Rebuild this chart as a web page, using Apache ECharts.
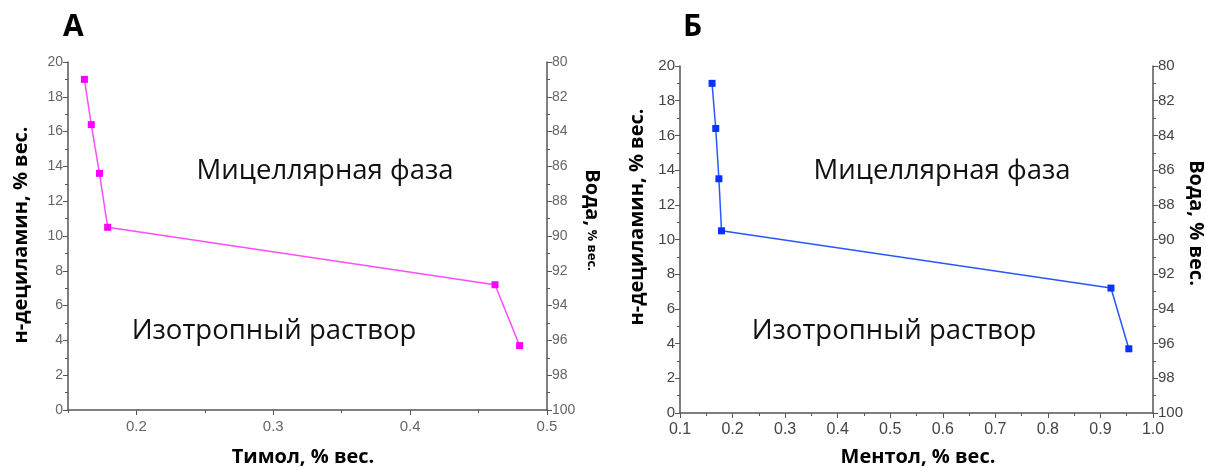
<!doctype html>
<html>
	<head>
		<meta charset="utf-8">
		<title>Фазовые диаграммы</title>
		<style>
			html, body { margin: 0; padding: 0; background: #fff; }
			#main { width: 1206px; height: 468px; }
		</style>
	</head>
	<body>
		<div id="main"></div>

		<script src="https://cdn.jsdelivr.net/npm/echarts@6.0.0/dist/echarts.min.js" type="text/javascript"></script>
		<script type="text/javascript">
			// А: тимол
			var timolX = [0.162, 0.167, 0.173, 0.179, 0.462, 0.480]
			var timolY = [19.0, 16.4, 13.6, 10.5, 7.2, 3.7]
			// Б: ментол
			var mentolX = [0.161, 0.168, 0.174, 0.179, 0.920, 0.954]
			var mentolY = [19.0, 16.4, 13.5, 10.5, 7.2, 3.7]

			// подписи осей
			var timolTicks = [0.2, 0.3, 0.4, 0.5]
			var timolMinor = [0.15, 0.25, 0.35, 0.45]

			var axisColor = '#555'

			function pairs(xs, ys) {
				var out = []
				for (var i = 0; i < xs.length; i++) {
					out.push([xs[i], ys[i]])
				}
				return out
			}

			function yAxisLeft(grid, labelStyle) {
				return {
					type: 'value', gridIndex: grid, position: 'left',
					min: 0, max: 20, interval: 2,
					axisLine: { show: true, lineStyle: { color: axisColor, width: 1.5 } },
					axisTick: { show: true, length: 5, lineStyle: { color: axisColor } },
					minorTick: { show: true, splitNumber: 2, length: 3, lineStyle: { color: axisColor } },
					axisLabel: labelStyle,
					splitLine: { show: false }
				}
			}

			function yAxisRight(grid, labelStyle) {
				return {
					type: 'value', gridIndex: grid, position: 'right',
					min: 80, max: 100, interval: 2, inverse: true,
					axisLine: { show: true, lineStyle: { color: axisColor, width: 1.5 } },
					axisTick: { show: true, length: 5, lineStyle: { color: axisColor } },
					minorTick: { show: true, splitNumber: 2, length: 3, lineStyle: { color: axisColor } },
					axisLabel: labelStyle,
					splitLine: { show: false }
				}
			}

			var labelA = { color: '#666', fontSize: 14, fontFamily: 'Liberation Sans', margin: 5 }
			var labelB = { color: '#444', fontSize: 15, fontFamily: 'Liberation Sans', margin: 5 }

			var myChart = echarts.init(document.getElementById('main'));

			var option = {
				animation: false,
				grid: [
					{ left: 68, top: 62, width: 479, height: 348 },
					{ left: 680, top: 66, width: 473, height: 347 }
				],
				xAxis: [
					{
						type: 'value', gridIndex: 0, position: 'bottom',
						min: 0.15, max: 0.5,
						axisLine: { show: true, onZero: false, lineStyle: { color: axisColor, width: 1.5 } },
						axisTick: { show: true, length: 5, customValues: timolTicks, lineStyle: { color: axisColor } },
						axisLabel: { color: '#666', fontSize: 15, fontFamily: 'Liberation Sans', margin: 9, customValues: timolTicks,
							formatter: function (v) { return v.toFixed(1) } },
						splitLine: { show: false }
					},
					{
						type: 'value', gridIndex: 0, position: 'bottom', offset: 0,
						min: 0.15, max: 0.5,
						axisLine: { show: false },
						axisTick: { show: true, length: 3, customValues: timolMinor, lineStyle: { color: axisColor } },
						axisLabel: { show: false },
						splitLine: { show: false }
					},
					{
						type: 'value', gridIndex: 1, position: 'bottom',
						min: 0.1, max: 1.0, interval: 0.1,
						axisLine: { show: true, onZero: false, lineStyle: { color: axisColor, width: 1.5 } },
						axisTick: { show: true, length: 5, lineStyle: { color: axisColor } },
						minorTick: { show: true, splitNumber: 2, length: 3, lineStyle: { color: axisColor } },
						axisLabel: { color: '#444', fontSize: 16, fontFamily: 'Liberation Sans', margin: 9,
							formatter: function (v) { return v.toFixed(1) } },
						splitLine: { show: false }
					}
				],
				yAxis: [
					yAxisLeft(0, labelA),
					yAxisRight(0, labelA),
					yAxisLeft(1, labelB),
					yAxisRight(1, labelB)
				],
				series: [
					{
						name: 'Тимол', type: 'line', xAxisIndex: 0, yAxisIndex: 0,
						data: pairs(timolX, timolY),
						symbol: 'rect', symbolSize: 7,
						lineStyle: { color: '#ff4dff', width: 1.5 },
						itemStyle: { color: '#ff00ff' }
					},
					{
						name: 'Ментол', type: 'line', xAxisIndex: 2, yAxisIndex: 2,
						data: pairs(mentolX, mentolY),
						symbol: 'rect', symbolSize: 7,
						lineStyle: { color: '#2a55ff', width: 1.5 },
						itemStyle: { color: '#0a32ff' }
					}
				],
				graphic: [
					{ type: 'text', left: 63, top: 12, style: { text: 'А', font: 'bold 30px "Open Sans"', fill: '#000' } },
					{ type: 'text', left: 683, top: 12, style: { text: 'Б', font: 'bold 30px "Open Sans"', fill: '#000' } },

					{ type: 'text', x: 325, y: 171, style: { text: 'Мицеллярная фаза', font: '27.5px "Open Sans"', fill: '#111', align: 'center', verticalAlign: 'middle' } },
					{ type: 'text', x: 274, y: 331, style: { text: 'Изотропный раствор', font: '27.5px "Open Sans"', fill: '#111', align: 'center', verticalAlign: 'middle' } },
					{ type: 'text', x: 942, y: 171, style: { text: 'Мицеллярная фаза', font: '27.5px "Open Sans"', fill: '#111', align: 'center', verticalAlign: 'middle' } },
					{ type: 'text', x: 894, y: 331, style: { text: 'Изотропный раствор', font: '27.5px "Open Sans"', fill: '#111', align: 'center', verticalAlign: 'middle' } },

					{ type: 'text', x: 303, y: 457, style: { text: 'Тимол, % вес.', font: 'bold 20px "Open Sans"', fill: '#000', align: 'center', verticalAlign: 'middle' } },
					{ type: 'text', x: 918, y: 457, style: { text: 'Ментол, % вес.', font: 'bold 20px "Open Sans"', fill: '#000', align: 'center', verticalAlign: 'middle' } },

					{ type: 'text', x: 21, y: 235, rotation: Math.PI / 2, style: { text: 'н-дециламин, % вес.', font: 'bold 20px "Open Sans"', fill: '#000', align: 'center', verticalAlign: 'middle' } },
					{ type: 'text', x: 637, y: 217, rotation: Math.PI / 2, style: { text: 'н-дециламин, % вес.', font: 'bold 20px "Open Sans"', fill: '#000', align: 'center', verticalAlign: 'middle' } },

					{ type: 'text', x: 592, y: 220, rotation: -Math.PI / 2, style: {
						text: '{a|Вода,} {b|% вес.}', align: 'center', verticalAlign: 'middle',
						rich: { a: { font: 'bold 20px "Open Sans"', fill: '#000' }, b: { font: 'bold 13px "Open Sans"', fill: '#000' } } } },
					{ type: 'text', x: 1196, y: 223, rotation: -Math.PI / 2, style: {
						text: 'Вода, % вес.', font: 'bold 20px "Open Sans"', fill: '#000', align: 'center', verticalAlign: 'middle' } }
				]
			};

			myChart.setOption(option);
		</script>
	</body>
</html>
